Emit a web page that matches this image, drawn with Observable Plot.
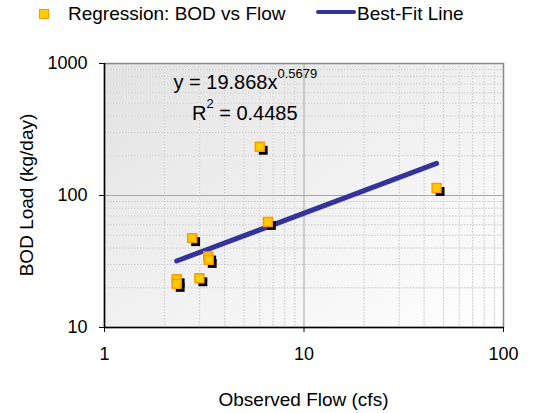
<!DOCTYPE html>
<html><head><meta charset="utf-8">
<script src="https://cdn.jsdelivr.net/npm/d3@7"></script>
<script src="https://cdn.jsdelivr.net/npm/@observablehq/plot@0.6"></script>
<style>
body{margin:0;background:#fff;font-family:"Liberation Sans",Arial,sans-serif;}
#wrap{width:537px;height:413px;position:relative;overflow:hidden;}
#legend{position:relative;height:30px;font-size:19px;color:#000;}
#legend .sq{position:absolute;left:39px;top:9px;width:8px;height:8px;background:#FFCC00;border:1.5px solid #FF9900;}
#legend .t{position:absolute;top:4px;line-height:20px;white-space:nowrap;}
#legend .ln{position:absolute;left:316px;top:10px;width:40px;height:4px;border-radius:2px;background:#333399;}
#chart svg{display:block;}
</style></head><body>
<div id="wrap">
  <div id="legend">
    <div class="sq"></div><div class="t" style="left:68px">Regression: BOD vs Flow</div>
    <div class="ln"></div><div class="t" style="left:357px">Best-Fit Line</div>
  </div>
  <div id="chart"></div>
</div>
<script>
const flow = [6.0, 46.2, 6.59, 2.75, 3.31, 3.33, 2.99, 2.30, 2.30];
const bod  = [234, 114, 63, 47.5, 34.5, 32.5, 23.6, 23.2, 21.4];
// Best-fit line endpoints (power fit y = 19.868 x^0.5679)
const fitFlow = [2.30, 46.2];
const fitBod  = [31.9, 175];
// Axis ticks
const xTicks = [1, 10, 100];
const yTicks = [10, 100, 1000];
const xMinor = [2,3,4,5,6,7,8,9,20,30,40,50,60,70,80,90];
const yMinor = [20,30,40,50,60,70,80,90,200,300,400,500,600,700,800,900];
// Labels
const eqMain = "y = 19.868x", eqExp = "0.5679";
const r2Pre = "R", r2Exp = "2", r2Post = " = 0.4485";
const xTitle = "Observed Flow (cfs)", yTitle = "BOD Load (kg/day)";

const pts = flow.map((f, i) => ({flow: f, bod: bod[i]}));
const fit = fitFlow.map((f, i) => ({flow: f, bod: fitBod[i]}));

const plot = Plot.plot({
  width: 537, height: 383,
  marginTop: 33, marginBottom: 86, marginLeft: 104, marginRight: 34,
  style: {fontFamily: '"Liberation Sans", Arial, sans-serif', fontSize: "18px", color: "#000", background: "transparent"},
  x: {type: "log", domain: [1, 100]},
  y: {type: "log", domain: [10, 1000]},
  marks: [
    Plot.frame({fill: "url(#bgGrad)", stroke: "none"}),
    Plot.ruleX(xMinor, {stroke: "#f4f4f4", strokeWidth: 1}),
    Plot.ruleX(xMinor, {stroke: "#c8c8c8", strokeWidth: 1, strokeDasharray: "1.5,1.5"}),
    Plot.ruleY(yMinor, {stroke: "#f4f4f4", strokeWidth: 1}),
    Plot.ruleY(yMinor, {stroke: "#c8c8c8", strokeWidth: 1, strokeDasharray: "1.5,1.5"}),
    Plot.ruleX([10], {stroke: "#a8a8a8", strokeWidth: 1}),
    Plot.ruleY([100], {stroke: "#a8a8a8", strokeWidth: 1}),
    Plot.frame({stroke: "#888888", strokeWidth: 1.5}),
    Plot.ruleX([1], {stroke: "#000", strokeWidth: 1.5}),
    Plot.ruleY([10], {stroke: "#000", strokeWidth: 1.5}),
    Plot.axisX({ticks: xTicks, tickFormat: d => String(d), tickSize: 5, tickPadding: 15, label: null}),
    Plot.axisY({ticks: yTicks, tickFormat: d => String(d), tickSize: 5, tickPadding: 12, label: null}),
    Plot.line(fit, {x: "flow", y: "bod", stroke: "#333399", strokeWidth: 5, strokeLinecap: "round"}),
    Plot.dot(pts, {x: "flow", y: "bod", symbol: "square", r: 5, fill: "#000", dx: 3.5, dy: 3.5}),
    Plot.dot(pts, {x: "flow", y: "bod", symbol: "square", r: 5, fill: "#FFCC00", stroke: "#FF9900", strokeWidth: 1.5})
  ]
});

const svg = d3.select(plot);
const defs = svg.insert("defs", ":first-child");
const g = defs.append("linearGradient").attr("id", "bgGrad")
  .attr("x1", "0").attr("y1", "0").attr("x2", "1").attr("y2", "1");
g.append("stop").attr("offset", "0").attr("stop-color", "#e2e2e2");
g.append("stop").attr("offset", "1").attr("stop-color", "#ffffff");

const xs = plot.scale("x"), ys = plot.scale("y");
const ff = '"Liberation Sans", Arial, sans-serif';
// Equation annotation anchored in data space
const eqX = xs.apply(2.23), eqY = ys.apply(630);
const t1 = svg.append("text").attr("x", eqX).attr("y", eqY).attr("text-anchor", "start")
  .attr("font-family", ff).attr("font-size", 20).attr("fill", "#000");
t1.append("tspan").text(eqMain);
t1.append("tspan").attr("font-size", 13).attr("dy", -11).text(eqExp);
const rX = xs.apply(2.76), rY = ys.apply(370);
const t2 = svg.append("text").attr("x", rX).attr("y", rY).attr("text-anchor", "start")
  .attr("font-family", ff).attr("font-size", 20).attr("fill", "#000");
t2.append("tspan").text(r2Pre);
t2.append("tspan").attr("font-size", 13).attr("dy", -12).text(r2Exp);
t2.append("tspan").attr("dy", 12).text(r2Post);

// Axis titles
const xr = xs.range, yr = ys.range;
svg.append("text").attr("x", (xr[0] + xr[1]) / 2).attr("y", 376)
  .attr("text-anchor", "middle").attr("font-family", ff).attr("font-size", 19).text(xTitle);
svg.append("text").attr("transform", `translate(33,${(yr[0] + yr[1]) / 2}) rotate(-90)`)
  .attr("text-anchor", "middle").attr("font-family", ff).attr("font-size", 19).text(yTitle);

document.getElementById("chart").appendChild(plot);
</script>
</body></html>
